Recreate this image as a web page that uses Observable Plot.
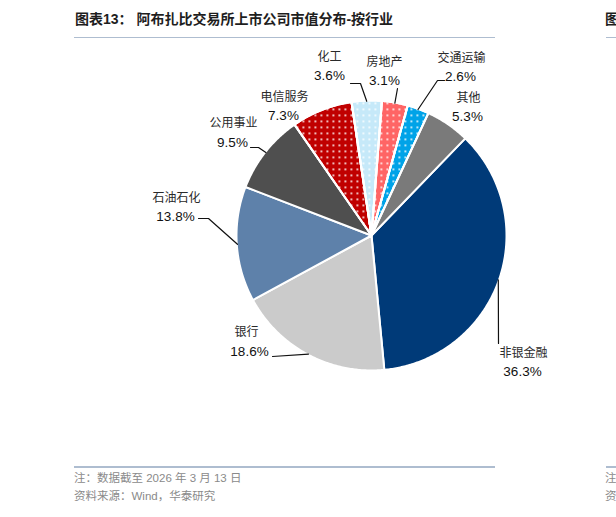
<!DOCTYPE html>
<html><head><meta charset="utf-8">
<script src="https://cdn.jsdelivr.net/npm/d3@7"></script>
<script src="https://cdn.jsdelivr.net/npm/@observablehq/plot@0.6"></script>
<style>
body{margin:0;width:616px;height:517px;overflow:hidden;background:#fff;position:relative;font-family:"Liberation Sans","Noto Sans CJK SC",sans-serif;}
.title{position:absolute;top:9px;font-size:14px;font-weight:bold;color:#1e1e1e;white-space:nowrap;line-height:20px;}
.rule{position:absolute;height:1.5px;background:#aebdd0;}
#chart{position:absolute;left:0;top:40px;}
.note{position:absolute;font-size:11.5px;color:#8a8a8a;white-space:nowrap;line-height:16px;}
</style></head><body>
<div class="title" style="left:75px">图表13：&nbsp;阿布扎比交易所上市公司市值分布-按行业</div>
<div class="title" style="left:605px">图</div>
<div class="rule" style="left:74px;width:421px;top:36.5px"></div>
<div class="rule" style="left:606px;width:10px;top:36.5px"></div>
<div id="chart"></div>
<div class="rule" style="left:74px;width:421px;top:466px"></div>
<div class="rule" style="left:606px;width:10px;top:466px"></div>
<div class="note" style="left:74px;top:470px">注：数据截至 2026 年 3 月 13 日</div>
<div class="note" style="left:74px;top:488px">资料来源：Wind，华泰研究</div>
<div class="note" style="left:605px;top:470px">注</div>
<div class="note" style="left:605px;top:488px">资</div>
<script>
// ---- data ----
const categories = ["非银金融","银行","石油石化","公用事业","电信服务","化工","房地产","交通运输","其他"];
const shares = [36.3, 18.6, 13.8, 9.5, 7.3, 3.6, 3.1, 2.6, 5.3];
const colors = ["#003a78","#cbcbcb","#5e81aa","#4f4f4f","#c00000","#c6e9f9","#ff6565","#00a3e8","#7a7a7a"];
const dotted = [false,false,false,false,true,true,true,true,false];

// ---- layout (pixel positions on the page; pie centre at 371,235, radius 135) ----
const CX = 371, CY = 235, R = 135, TOP = 40, H = 420;
const labelLayout = {
  "非银金融": {name:[523,353], pct:[522,371], leader:[[498,343]]},
  "银行":     {name:[246,332], pct:[249,351], leader:[[272,356]]},
  "石油石化": {name:[176,198], pct:[175,216], leader:[[208,218],[198,218]]},
  "公用事业": {name:[233,123], pct:[232,142], leader:[[258,147],[250,147]]},
  "电信服务": {name:[284,97],  pct:[283,115], leader:[]},
  "化工":     {name:[329,57],  pct:[329,75],  leader:[[360,83],[350,83]]},
  "房地产":   {name:[384,62],  pct:[384,80],  leader:[[397,88]]},
  "交通运输": {name:[461,58],  pct:[460,76],  leader:[[437,80],[444,80]]},
  "其他":     {name:[468,98],  pct:[467,116], leader:[]}
};
const ux = px => (px - CX) / R;
const uy = py => -(py - CY) / R;

const start = 44 * Math.PI / 180;
const arcs = d3.pie().sort(null).value(d => d).startAngle(start).endAngle(start + 2 * Math.PI)(shares);

const slicePts = [];
arcs.forEach((a, i) => {
  const name = categories[i];
  slicePts.push({name, x: 0, y: 0, color: colors[i], dotted: dotted[i]});
  const n = Math.max(4, Math.ceil((a.endAngle - a.startAngle) / 0.01));
  for (let k = 0; k <= n; k++) {
    const t = a.startAngle + (a.endAngle - a.startAngle) * k / n;
    slicePts.push({name, x: Math.sin(t), y: Math.cos(t), color: colors[i], dotted: dotted[i]});
  }
});

const leaderPts = [];
const nameLabels = [], pctLabels = [];
arcs.forEach((a, i) => {
  const name = categories[i];
  const L = labelLayout[name];
  const mid = (a.startAngle + a.endAngle) / 2;
  if (L.leader.length) {
    leaderPts.push({name, x: Math.sin(mid) * 0.995, y: Math.cos(mid) * 0.995});
    L.leader.forEach(p => leaderPts.push({name, x: ux(p[0]), y: uy(p[1])}));
  }
  nameLabels.push({text: name, x: ux(L.name[0]), y: uy(L.name[1])});
  pctLabels.push({text: shares[i].toFixed(1) + "%", x: ux(L.pct[0]), y: uy(L.pct[1])});
});

const defs = () => {
  const d = d3.create("svg:defs");
  const p = d.append("pattern").attr("id", "dots").attr("patternUnits", "userSpaceOnUse")
    .attr("width", 6).attr("height", 6);
  p.append("rect").attr("x", 2).attr("y", 2).attr("width", 1.7).attr("height", 1.7).attr("fill", "#fff");
  return d.node();
};

const chart = Plot.plot({
  width: 616, height: H, margin: 0,
  x: {domain: [ux(0), ux(616)], range: [0, 616], axis: null},
  y: {domain: [uy(TOP + H), uy(TOP)], range: [H, 0], axis: null},
  color: {type: "identity"},
  marks: [
    defs,
    Plot.line(slicePts, {x: "x", y: "y", z: "name", fill: "color", stroke: "#fff", strokeWidth: 2, curve: "linear-closed"}),
    Plot.line(slicePts.filter(d => d.dotted), {x: "x", y: "y", z: "name", fill: "url(#dots)", stroke: "#fff", strokeWidth: 2, curve: "linear-closed"}),
    Plot.line(leaderPts, {x: "x", y: "y", z: "name", stroke: "#111", strokeWidth: 1.2}),
    Plot.text(nameLabels, {x: "x", y: "y", text: "text", fontFamily: "Noto Sans CJK SC", fontSize: 12, fill: "#2a2a2a", ariaLabel: "cnlabels"}),
    Plot.text(pctLabels, {x: "x", y: "y", text: "text", fontFamily: "Liberation Sans, Arial", fontSize: 13.5, fill: "#111"})
  ]
});
d3.select(chart).selectAll('g[aria-label="cnlabels"] text').style("letter-spacing", "2px");
document.getElementById("chart").appendChild(chart);
</script>
</body></html>
